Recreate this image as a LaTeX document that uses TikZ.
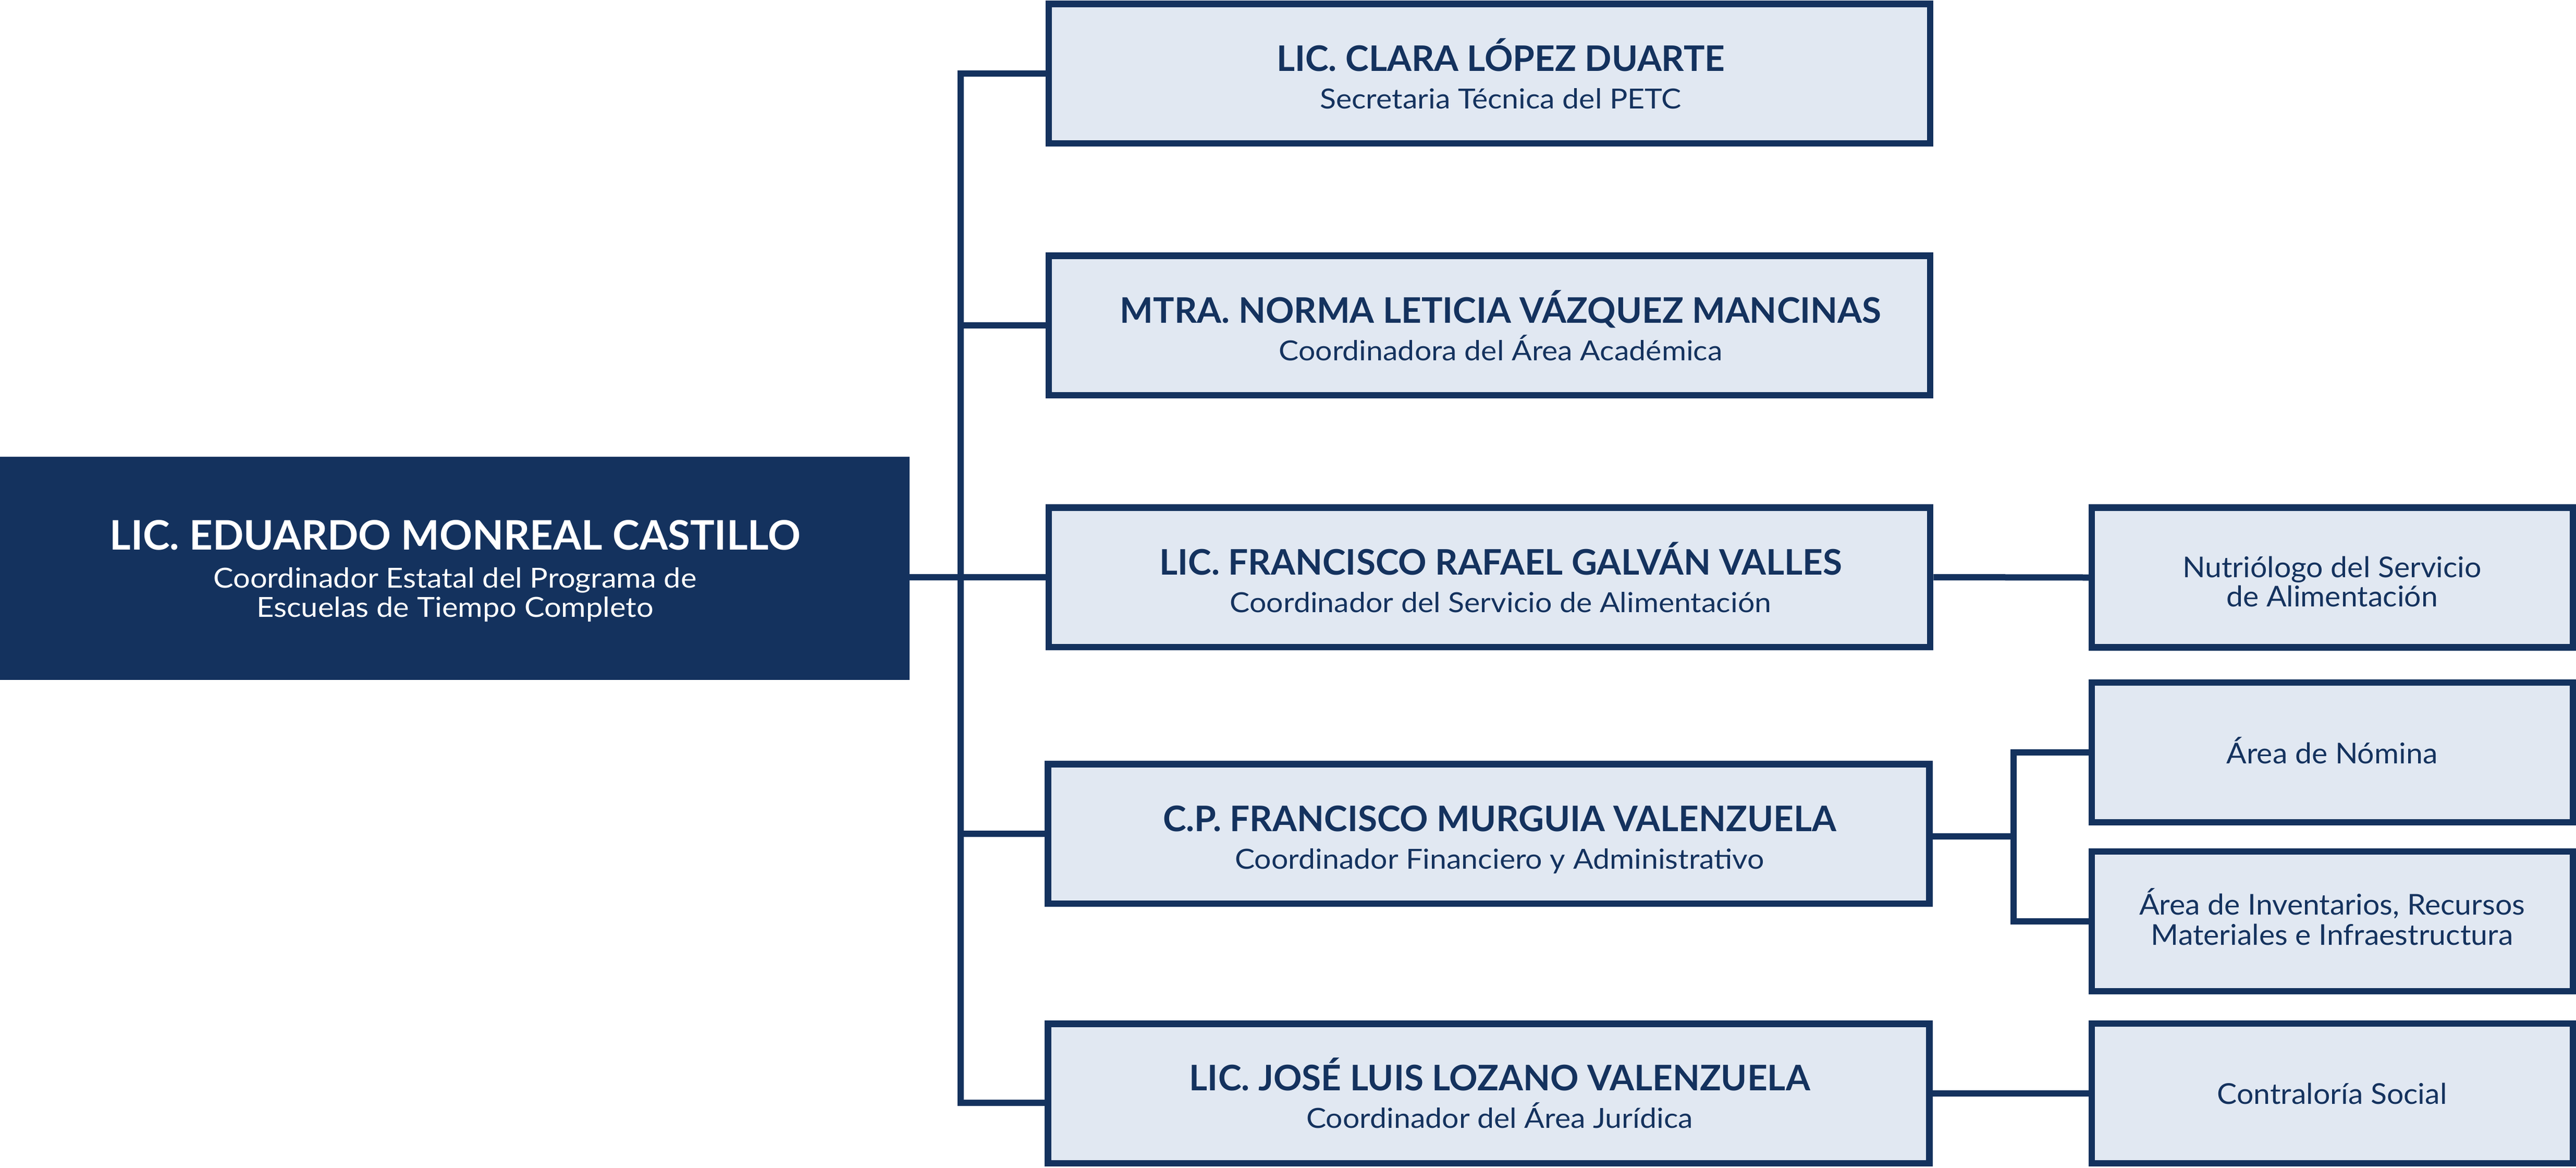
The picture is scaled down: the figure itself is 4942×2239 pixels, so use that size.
\documentclass[tikz,border=0pt]{standalone}
\usepackage{fontspec}
\setmainfont{Lato}
\newfontfamily\rolefont[FakeStretch=1.08]{Lato}
\newfontfamily\subfont[FakeStretch=1.04]{Lato}
\newfontfamily\mainrolefont[FakeStretch=1.09]{Lato}
\usetikzlibrary{calc}
\definecolor{navy}{RGB}{20,50,94}
\definecolor{pale}{RGB}{225,232,242}
\tikzset{
  lvlbox/.style={rectangle, draw=navy, line width=12.5pt, fill=pale, minimum width=1691pt, minimum height=267.5pt, inner sep=0pt},
  subbox/.style={rectangle, draw=navy, line width=12.5pt, fill=pale, minimum width=923pt, minimum height=268pt, inner sep=0pt},
  conn/.style={draw=navy, line width=12pt},
  nametxt/.style={anchor=base, inner sep=0pt, text=navy, font=\fontsize{67.5}{80}\selectfont\bfseries},
  roletxt/.style={anchor=base, inner sep=0pt, text=navy, font=\rolefont\fontsize{53}{64}\selectfont},
  subtxt/.style={anchor=base, inner sep=0pt, text=navy, font=\subfont\fontsize{55}{66}\selectfont},
  mainname/.style={anchor=base, inner sep=0pt, text=white, font=\fontsize{78}{94}\selectfont\bfseries},
  mainrole/.style={anchor=base, inner sep=0pt, text=white, font=\mainrolefont\fontsize{53}{64}\selectfont},
}
\begin{document}
\begin{tikzpicture}[x=1pt,y=-1pt]
\useasboundingbox (0,0) rectangle (4942,2239);
% main box
\node[rectangle, fill=navy, minimum width=1745pt, minimum height=428pt, inner sep=0pt] (main) at (872.5,1090) {};
\node[mainname] (mainN) at (873,1054) {LIC. EDUARDO MONREAL CASTILLO};
\node[mainrole] (mainR1) at (873,1127) {Coordinador Estatal del Programa de};
\node[mainrole] (mainR2) at (873,1183) {Escuelas de Tiempo Completo};
% level 2 boxes
\node[lvlbox] (b1) at (2857.5,141) {};
\node[lvlbox] (b2) at (2857.5,624) {};
\node[lvlbox] (b3) at (2857.5,1107) {};
\node[lvlbox] (b4) at (2856,1599) {};
\node[lvlbox] (b5) at (2856,2097) {};
% right boxes
\node[subbox] (r1) at (4474.5,1107.5) {};
\node[subbox] (r2) at (4474.5,1443) {};
\node[subbox] (r3) at (4474.5,1767) {};
\node[subbox] (r4) at (4474.5,2097) {};
% connectors
\coordinate (trunk) at (1843,0);
\coordinate (b5j) at ($(b5.west)+(0,18)$);
\draw[conn] (b1.west) -| (trunk |- b5j) -- (b5j);
\draw[conn] (main.east |- b3.west) -- (b3.west);
\draw[conn] (trunk |- b2.west) -- (b2.west);
\draw[conn] (trunk |- b4.west) -- (b4.west);
\draw[conn] (b3.east) -- (r1.west);
\coordinate (brk) at (3863,1604);
\draw[conn] (b4.east |- brk) -- (brk);
\draw[conn] (r2.west) -| (brk) |- (r3.west);
\draw[conn] (b5.east) -- (r4.west);
% level 2 texts
\node[nametxt] (b1n) at (2879,136) {LIC. CLARA LÓPEZ DUARTE};
\node[roletxt] (b1r) at (2879,208) {Secretaria Técnica del PETC};
\node[nametxt] (b2n) at (2879,619) {MTRA. NORMA LETICIA VÁZQUEZ MANCINAS};
\node[roletxt] (b2r) at (2879,691) {Coordinadora del Área Académica};
\node[nametxt] (b3n) at (2879,1102) {LIC. FRANCISCO RAFAEL GALVÁN VALLES};
\node[roletxt] (b3r) at (2879,1174) {Coordinador del Servicio de Alimentación};
\node[nametxt] (b4n) at (2877,1594) {C.P. FRANCISCO MURGUIA VALENZUELA};
\node[roletxt] (b4r) at (2877,1666) {Coordinador Financiero y Administrativo};
\node[nametxt] (b5n) at (2877,2091) {LIC. JOSÉ LUIS LOZANO VALENZUELA};
\node[roletxt] (b5r) at (2877,2163) {Coordinador del Área Jurídica};
% right texts
\node[subtxt] (r1a) at (4474,1107) {Nutriólogo del Servicio};
\node[subtxt] (r1b) at (4474,1163) {de Alimentación};
\node[subtxt] (r2a) at (4474,1464) {Área de Nómina};
\node[subtxt] (r3a) at (4474,1754) {Área de Inventarios, Recursos};
\node[subtxt] (r3b) at (4474,1812) {Materiales e Infraestructura};
\node[subtxt] (r4a) at (4474,2117) {Contraloría Social};
\end{tikzpicture}
\end{document}
